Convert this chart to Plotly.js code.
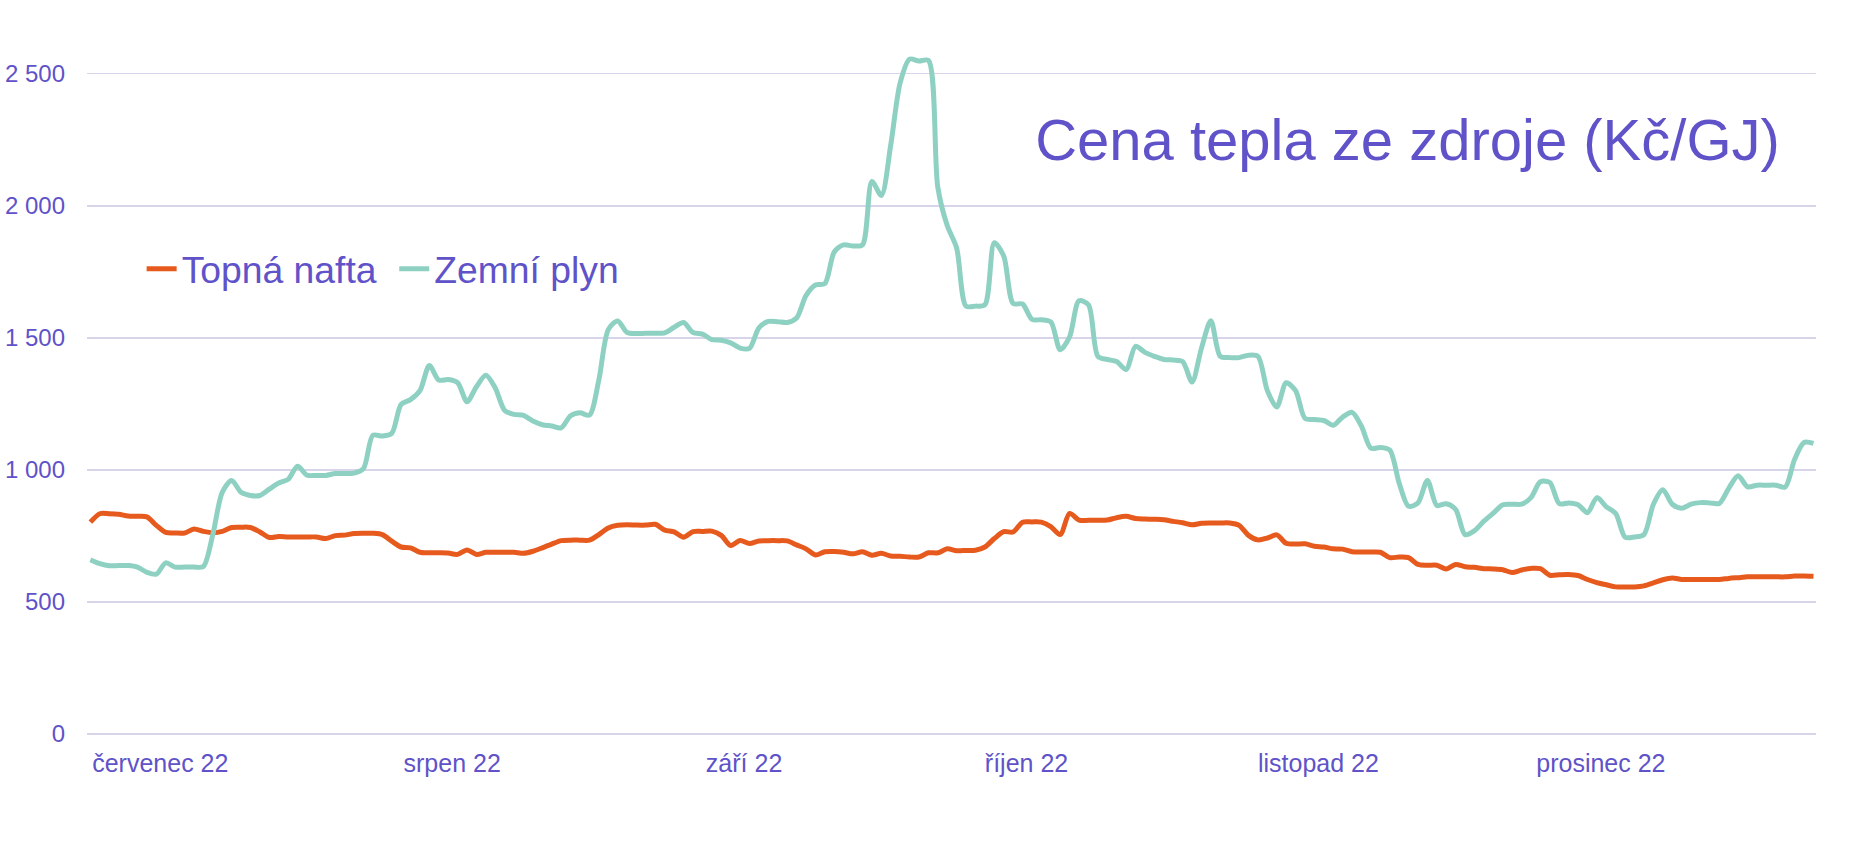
<!DOCTYPE html>
<html>
<head>
<meta charset="utf-8">
<script src="https://cdn.plot.ly/plotly-3.0.1.min.js"></script>
<style>html,body{margin:0;padding:0;background:#fff;}#chart{width:1852px;height:853px;}</style>
</head>
<body>
<div id="chart"></div>
<script>
// Daily series, first day of data
const startDate = '2022-06-24';

// Topná nafta (Kč/GJ)
const topnaNafta = [
802,834,834,832,825,824,822,790,763,761,761,776,767,762,767,782,783,782,765,744,
748,746,746,746,746,740,751,753,759,760,760,755,730,708,705,688,686,686,685,680,
697,680,688,688,688,688,684,692,705,719,732,734,734,734,755,780,790,792,791,791,
794,772,765,745,766,767,768,752,714,733,721,731,732,732,731,716,701,678,690,691,
688,682,690,677,684,674,673,670,670,686,686,701,694,695,696,708,740,766,765,802,
803,802,785,755,835,810,809,809,810,819,824,816,814,813,811,805,800,792,798,799,
799,799,790,752,735,742,754,722,719,720,711,708,701,700,690,689,689,688,668,670,
668,642,639,639,625,642,633,631,626,625,622,611,621,627,626,601,603,604,600,585,
573,565,557,557,557,561,572,584,591,585,585,585,585,585,589,592,595,595,595,595,
595,598,598,597
];

// Zemní plyn (Kč/GJ)
const zemniPlyn = [
660,645,637,638,638,632,612,605,648,632,632,632,634,755,915,960,915,903,903,927,
950,964,1014,980,979,979,986,986,988,1005,1131,1128,1138,1248,1266,1300,1395,1340,1342,1330,
1258,1315,1358,1310,1225,1210,1206,1185,1171,1166,1159,1205,1216,1207,1340,1531,1564,1520,1516,1517,
1517,1519,1540,1558,1520,1514,1493,1491,1481,1461,1460,1538,1562,1561,1558,1575,1660,1700,1705,1825,
1852,1848,1852,2092,2039,2230,2465,2555,2548,2550,2070,1925,1840,1620,1620,1625,1860,1810,1630,1628,
1570,1568,1560,1455,1504,1640,1625,1430,1418,1410,1380,1468,1445,1430,1418,1416,1410,1333,1460,1565,
1430,1425,1425,1434,1430,1300,1238,1330,1300,1195,1191,1187,1169,1200,1218,1165,1082,1085,1075,950,
862,875,960,865,872,850,755,770,806,836,868,870,870,895,955,952,872,875,868,838,
895,860,835,745,746,755,870,925,870,855,870,876,875,873,930,978,936,942,942,942,
935,1040,1104,1100
];

// X tick labels (month starts)
const tickDates = ['2022-07-01','2022-08-01','2022-09-01','2022-10-01','2022-11-01','2022-12-01'];
const tickLabels = ['červenec 22','srpen 22','září 22','říjen 22','listopad 22','prosinec 22'];

const seriesNames = ['Topná nafta','Zemní plyn'];
const chartTitle = 'Cena tepla ze zdroje (Kč/GJ)';

function buildDates(start, n) {
  const out = [];
  const t0 = new Date(start + 'T00:00:00Z').getTime();
  for (let i = 0; i < n; i++) {
    out.push(new Date(t0 + i * 86400000).toISOString().slice(0, 10));
  }
  return out;
}
const dates = buildDates(startDate, topnaNafta.length);

const textColor = '#6052C8';
const gridColor = '#D8D5EA';
const fontFamily = '"Liberation Sans", Arial, sans-serif';

const traces = [
  {x: dates, y: topnaNafta, name: seriesNames[0], type: 'scatter', mode: 'lines',
   legend: 'legend',
   line: {color: '#E65A1E', width: 5, shape: 'spline', smoothing: 0.8}},
  {x: dates, y: zemniPlyn, name: seriesNames[1], type: 'scatter', mode: 'lines',
   legend: 'legend2',
   line: {color: '#8ED1C3', width: 5, shape: 'spline', smoothing: 0.8}}
];

const legendFont = {family: fontFamily, size: 37.3, color: textColor};
const legendY = 1 - 269 / 733.7;

const layout = {
  width: 1852, height: 853,
  margin: {l: 87.3, r: 35.5, t: 0, b: 119.3, pad: 0},
  paper_bgcolor: '#ffffff', plot_bgcolor: '#ffffff',
  separators: ', ',
  font: {family: fontFamily, color: textColor, size: 24},
  title: {text: chartTitle, font: {family: fontFamily, size: 58, color: textColor},
          xref: 'container', x: 1407.5 / 1852, xanchor: 'center',
          yref: 'container', y: 1 - 140 / 853, yanchor: 'middle'},
  showlegend: true,
  legend: {orientation: 'h', x: 0.0316, xanchor: 'left', y: legendY, yanchor: 'middle',
           font: legendFont, bgcolor: 'rgba(0,0,0,0)', borderwidth: 0},
  legend2: {orientation: 'h', x: 0.1777, xanchor: 'left', y: legendY, yanchor: 'middle',
           font: legendFont, bgcolor: 'rgba(0,0,0,0)', borderwidth: 0},
  xaxis: {type: 'date', range: ['2022-06-23 15:20', '2022-12-24 06:30'],
          tickmode: 'array', tickvals: tickDates, ticktext: tickLabels,
          showgrid: false, zeroline: false, showline: false, ticks: '',
          tickfont: {family: fontFamily, size: 25, color: textColor},
          ticklabelstandoff: 12, ticklabelshift: 4},
  yaxis: {range: [0, 2779], tick0: 0, dtick: 500, tickformat: ',d',
          showgrid: true, gridcolor: gridColor, gridwidth: 1.5,
          zeroline: true, zerolinecolor: gridColor, zerolinewidth: 1.5,
          showline: false, ticks: '',
          tickfont: {family: fontFamily, size: 24, color: textColor},
          ticklabelstandoff: 21}
};

Plotly.newPlot('chart', traces, layout, {displayModeBar: false, staticPlot: true});
</script>
</body>
</html>
